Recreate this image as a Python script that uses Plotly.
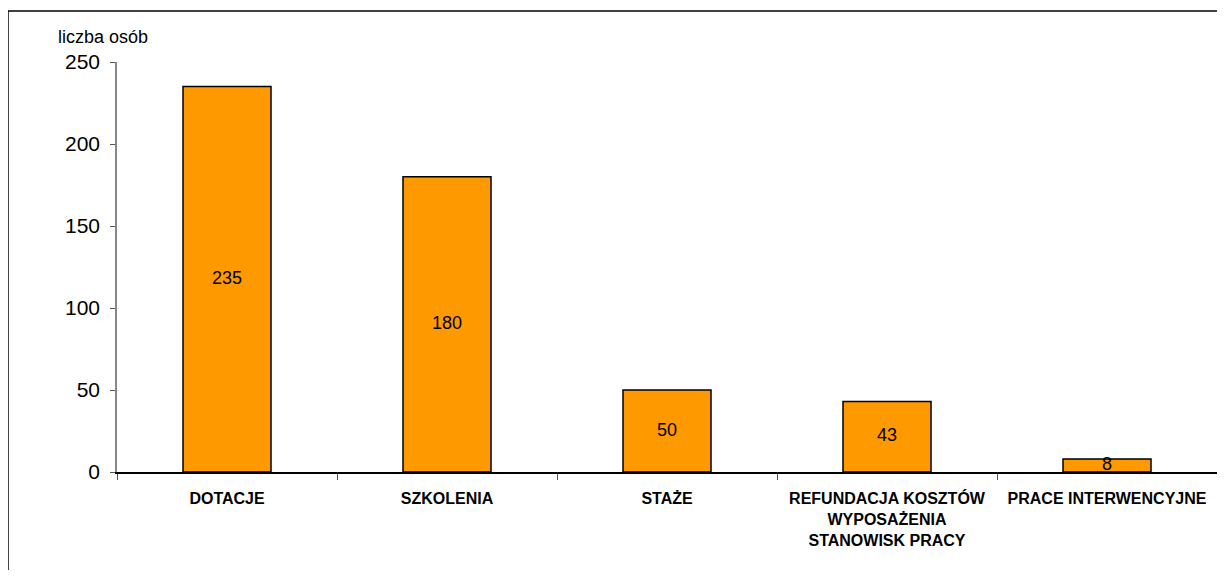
import plotly.graph_objects as go

categories = ["DOTACJE", "SZKOLENIA", "STAŻE",
              "REFUNDACJA KOSZTÓW<br>WYPOSAŻENIA<br>STANOWISK PRACY",
              "PRACE INTERWENCYJNE"]
values = [235, 180, 50, 43, 8]
y_ticks = [0, 50, 100, 150, 200, 250]

fig = go.Figure()

fig.add_trace(go.Bar(
    x=categories,
    y=values,
    marker=dict(color="#FF9900", line=dict(color="#000000", width=1.5)),
    hoverinfo="x+y",
))

# value labels in the middle of each bar
fig.add_trace(go.Scatter(
    x=categories,
    y=[v / 2 for v in values],
    mode="text",
    text=[str(v) for v in values],
    textposition="middle center",
    textfont=dict(family="Liberation Sans, Arial", size=18, color="#000000"),
    hoverinfo="skip",
))

# page has an 8px body margin, so keep the figure small enough not to scroll
fig.update_layout(
    width=1209, height=562,
    margin=dict(l=109, r=0, t=54, b=98),
    paper_bgcolor="white",
    plot_bgcolor="white",
    showlegend=False,
    bargap=0.6,
    font=dict(family="Liberation Sans, Arial", color="#000000"),
)

fig.update_xaxes(
    type="category",
    tickvals=categories,
    ticktext=["<b>%s</b>" % c for c in categories],
    showline=True, linecolor="#000000", linewidth=1.5,
    ticks="outside", tickson="boundaries", ticklen=6, tickcolor="#555555",
    ticklabelstandoff=11,
    tickfont=dict(family="Liberation Sans, Arial", size=16, color="#000000"),
    showgrid=False,
)
fig.update_yaxes(
    range=[0, 250],
    tickvals=y_ticks,
    showline=True, linecolor="#888888", linewidth=1.5,
    ticks="outside", ticklen=5, tickcolor="#555555",
    ticklabelstandoff=6,
    tickfont=dict(family="Liberation Sans, Arial", size=21, color="#000000"),
    showgrid=False, zeroline=False,
)

# frame of the chart area (cropped at right and bottom)
fig.add_shape(type="line", xref="paper", yref="paper",
              x0=-0.0991, x1=1.0, y0=1.1244, y1=1.1244,
              line=dict(color="#000000", width=1.5))
fig.add_shape(type="line", xref="paper", yref="paper",
              x0=-0.0991, x1=-0.0991, y0=1.1244, y1=-0.24,
              line=dict(color="#000000", width=1.5))

# title, mostly cut off at top
fig.add_annotation(text="<b>RPO WP</b>", xref="paper", yref="paper",
                   x=0.451, y=1.161, xanchor="center", yanchor="middle",
                   showarrow=False,
                   font=dict(family="Liberation Sans, Arial", size=22, color="#000000"))

fig.add_annotation(text="liczba osób", xref="paper", yref="paper",
                   x=-0.0127, y=1.06, xanchor="center", yanchor="middle",
                   showarrow=False,
                   font=dict(family="Liberation Sans, Arial", size=18, color="#000000"))

fig.write_html("out.html")
